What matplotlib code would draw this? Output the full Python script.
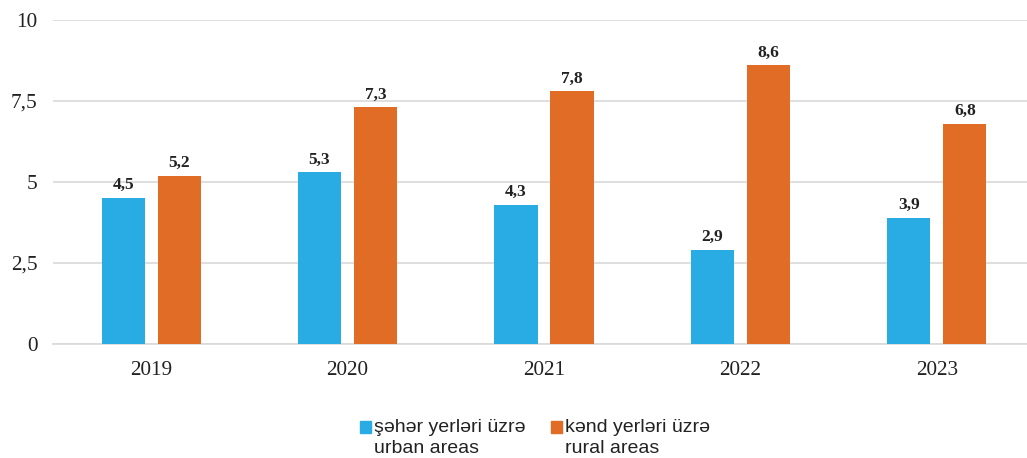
import matplotlib.pyplot as plt
import numpy as np
from matplotlib.patches import Patch, Rectangle
from matplotlib.legend_handler import HandlerPatch

years = ["2019", "2020", "2021", "2022", "2023"]
urban = [4.5, 5.3, 4.3, 2.9, 3.9]
rural = [5.2, 7.3, 7.8, 8.6, 6.8]
series_labels = ["şəhər yerləri üzrə\nurban areas", "kənd yerləri üzrə\nrural areas"]
yticks = [0, 2.5, 5, 7.5, 10]
ytick_labels = ["0", "2,5", "5", "7,5", "10"]

BLUE = "#29ACE3"
ORANGE = "#E06C26"
GRID = "#D9D9D9"

fig = plt.figure(figsize=(10.27, 4.58), dpi=100)
ax = fig.add_axes([53 / 1027, 1 - 344 / 458, 982 / 1027, 324 / 458])

x = np.arange(len(years))
w = 0.22
off = 0.143
b1 = ax.bar(x - off, urban, w, color=BLUE, zorder=3)
b2 = ax.bar(x + off, rural, w, color=ORANGE, zorder=3)

for bars, vals in ((b1, urban), (b2, rural)):
    for rect, v in zip(bars, vals):
        ax.annotate(f"{v:.1f}".replace(".", ","),
                    (rect.get_x() + rect.get_width() / 2, v),
                    xytext=(0, 3.5), textcoords="offset points",
                    ha="center", va="bottom", fontsize=12.5, weight="bold",
                    family="Liberation Serif", color="#222222")

ax.set_xlim(-0.5, len(years) - 0.5)
ax.set_ylim(0, 10)
ax.set_yticks(yticks, ytick_labels)
ax.set_xticks(x, years)
ax.yaxis.grid(True, color=GRID, linewidth=1.2, zorder=0)
ax.set_axisbelow(True)
for s in ("top", "right", "left"):
    ax.spines[s].set_visible(False)
ax.spines["bottom"].set_color(GRID)
ax.spines["bottom"].set_linewidth(1.2)
ax.tick_params(length=0, labelsize=15.3, colors="#222222")
ax.tick_params(axis="y", pad=11)
ax.tick_params(axis="x", pad=12)
for lab in ax.get_xticklabels() + ax.get_yticklabels():
    lab.set_family("Liberation Serif")


def top_square(legend, orig_handle, xdescent, ydescent, width, height, fontsize):
    # square sits beside the first line of the two-line label
    return Rectangle((-xdescent, -ydescent + 7.5), width, height)


handles = [Patch(color=BLUE), Patch(color=ORANGE)]
leg = fig.legend(handles, series_labels, loc="lower center", bbox_to_anchor=(0.521, -0.036),
                 ncol=2, frameon=False, handlelength=0.57, handleheight=0.57,
                 handletextpad=0.15, columnspacing=1.3,
                 handler_map={Patch: HandlerPatch(patch_func=top_square)},
                 prop={"family": "Liberation Sans", "size": 14}, labelcolor="#222222")
for t in leg.get_texts():
    t.set_linespacing(1.3)

fig.savefig("out.png", dpi=100)
